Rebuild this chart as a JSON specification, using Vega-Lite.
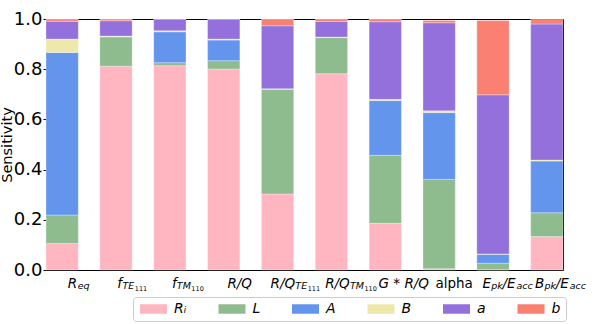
{
  "$schema": "https://vega.github.io/schema/vega-lite/v6.json",
  "autosize": {"type": "none"},
  "padding": {"left": 46, "top": 19, "right": 35, "bottom": 54},
  "width": 517,
  "height": 251,
  "background": "white",
  "config": {
    "font": "DejaVu Sans",
    "view": {"stroke": "#000000", "strokeWidth": 1},
    "axis": {"grid": false, "domain": false, "labelColor": "#000000", "titleColor": "#000000", "tickColor": "#000000"}
  },
  "data": {
    "values": [
      {"param": "R_eq", "series": "Rᵢ", "k": 0, "value": 0.106},
      {"param": "R_eq", "series": "L", "k": 1, "value": 0.113},
      {"param": "R_eq", "series": "A", "k": 2, "value": 0.648},
      {"param": "R_eq", "series": "B", "k": 3, "value": 0.053},
      {"param": "R_eq", "series": "a", "k": 4, "value": 0.071},
      {"param": "R_eq", "series": "b", "k": 5, "value": 0.009},
      {"param": "f_TE111", "series": "Rᵢ", "k": 0, "value": 0.812},
      {"param": "f_TE111", "series": "L", "k": 1, "value": 0.117},
      {"param": "f_TE111", "series": "A", "k": 2, "value": 0.001},
      {"param": "f_TE111", "series": "B", "k": 3, "value": 0.002},
      {"param": "f_TE111", "series": "a", "k": 4, "value": 0.061},
      {"param": "f_TE111", "series": "b", "k": 5, "value": 0.007},
      {"param": "f_TM110", "series": "Rᵢ", "k": 0, "value": 0.814},
      {"param": "f_TM110", "series": "L", "k": 1, "value": 0.012},
      {"param": "f_TM110", "series": "A", "k": 2, "value": 0.123},
      {"param": "f_TM110", "series": "B", "k": 3, "value": 0.004},
      {"param": "f_TM110", "series": "a", "k": 4, "value": 0.046},
      {"param": "f_TM110", "series": "b", "k": 5, "value": 0.001},
      {"param": "R/Q", "series": "Rᵢ", "k": 0, "value": 0.801},
      {"param": "R/Q", "series": "L", "k": 1, "value": 0.033},
      {"param": "R/Q", "series": "A", "k": 2, "value": 0.082},
      {"param": "R/Q", "series": "B", "k": 3, "value": 0.004},
      {"param": "R/Q", "series": "a", "k": 4, "value": 0.079},
      {"param": "R/Q", "series": "b", "k": 5, "value": 0.001},
      {"param": "R/Q_TE111", "series": "Rᵢ", "k": 0, "value": 0.303},
      {"param": "R/Q_TE111", "series": "L", "k": 1, "value": 0.417},
      {"param": "R/Q_TE111", "series": "A", "k": 2, "value": 0.001},
      {"param": "R/Q_TE111", "series": "B", "k": 3, "value": 0.001},
      {"param": "R/Q_TE111", "series": "a", "k": 4, "value": 0.251},
      {"param": "R/Q_TE111", "series": "b", "k": 5, "value": 0.027},
      {"param": "R/Q_TM110", "series": "Rᵢ", "k": 0, "value": 0.782},
      {"param": "R/Q_TM110", "series": "L", "k": 1, "value": 0.144},
      {"param": "R/Q_TM110", "series": "A", "k": 2, "value": 0.001},
      {"param": "R/Q_TM110", "series": "B", "k": 3, "value": 0.001},
      {"param": "R/Q_TM110", "series": "a", "k": 4, "value": 0.062},
      {"param": "R/Q_TM110", "series": "b", "k": 5, "value": 0.010},
      {"param": "G*R/Q", "series": "Rᵢ", "k": 0, "value": 0.186},
      {"param": "G*R/Q", "series": "L", "k": 1, "value": 0.271},
      {"param": "G*R/Q", "series": "A", "k": 2, "value": 0.218},
      {"param": "G*R/Q", "series": "B", "k": 3, "value": 0.005},
      {"param": "G*R/Q", "series": "a", "k": 4, "value": 0.309},
      {"param": "G*R/Q", "series": "b", "k": 5, "value": 0.011},
      {"param": "alpha", "series": "Rᵢ", "k": 0, "value": 0.005},
      {"param": "alpha", "series": "L", "k": 1, "value": 0.356},
      {"param": "alpha", "series": "A", "k": 2, "value": 0.266},
      {"param": "alpha", "series": "B", "k": 3, "value": 0.007},
      {"param": "alpha", "series": "a", "k": 4, "value": 0.351},
      {"param": "alpha", "series": "b", "k": 5, "value": 0.009},
      {"param": "E_pk/E_acc", "series": "Rᵢ", "k": 0, "value": 0.001},
      {"param": "E_pk/E_acc", "series": "L", "k": 1, "value": 0.026},
      {"param": "E_pk/E_acc", "series": "A", "k": 2, "value": 0.036},
      {"param": "E_pk/E_acc", "series": "B", "k": 3, "value": 0.001},
      {"param": "E_pk/E_acc", "series": "a", "k": 4, "value": 0.634},
      {"param": "E_pk/E_acc", "series": "b", "k": 5, "value": 0.296},
      {"param": "B_pk/E_acc", "series": "Rᵢ", "k": 0, "value": 0.133},
      {"param": "B_pk/E_acc", "series": "L", "k": 1, "value": 0.095},
      {"param": "B_pk/E_acc", "series": "A", "k": 2, "value": 0.206},
      {"param": "B_pk/E_acc", "series": "B", "k": 3, "value": 0.004},
      {"param": "B_pk/E_acc", "series": "a", "k": 4, "value": 0.542},
      {"param": "B_pk/E_acc", "series": "b", "k": 5, "value": 0.019}
    ]
  },
  "resolve": {"axis": {"x": "independent"}},
  "layer": [
    {
      "mark": {"type": "bar", "stroke": "white", "strokeWidth": 0.6, "strokeOpacity": 0.5},
      "encoding": {
        "x": {
          "field": "param", "type": "nominal", "sort": null,
          "scale": {"domain": ["R_eq", "f_TE111", "f_TM110", "R/Q", "R/Q_TE111", "R/Q_TM110", "G*R/Q", "alpha", "E_pk/E_acc", "B_pk/E_acc"], "paddingInner": 0.4, "paddingOuter": 0},
          "axis": {
            "orient": "bottom", "title": null, "ticks": false, "labelAngle": 0,
            "labelOverlap": false, "labelBound": false, "labelFlush": false,
            "labelFontSize": 13.5, "labelPadding": 6,
            "labelBaseline": "top",
            "labelFontStyle": {"condition": {"test": "datum.value == 'alpha'", "value": "normal"}, "value": "italic"},
            "labelAlign": {"condition": {"test": "datum.value == 'R/Q' || datum.value == 'G*R/Q' || datum.value == 'alpha'", "value": "center"}, "value": "right"},
            "labelOffset": {"condition": [
              {"test": "datum.value == 'R_eq'", "value": 15},
              {"test": "datum.value == 'f_TE111'", "value": 6},
              {"test": "datum.value == 'f_TM110'", "value": 7},
              {"test": "datum.value == 'R/Q'", "value": 16},
              {"test": "datum.value == 'R/Q_TE111'", "value": 17.6},
              {"test": "datum.value == 'R/Q_TM110'", "value": 18.3},
              {"test": "datum.value == 'G*R/Q'", "value": 18.5},
              {"test": "datum.value == 'alpha'", "value": 15},
              {"test": "datum.value == 'E_pk/E_acc'", "value": -2},
              {"test": "datum.value == 'B_pk/E_acc'", "value": -2.6}
            ], "value": 16},
            "labelExpr": "['R','f','f','R/Q','R/Q','R/Q','G * R/Q','alpha','E','B'][indexof(['R_eq','f_TE111','f_TM110','R/Q','R/Q_TE111','R/Q_TM110','G*R/Q','alpha','E_pk/E_acc','B_pk/E_acc'], datum.value)]"
          }
        },
        "y": {
          "aggregate": "sum", "field": "value", "type": "quantitative", "stack": "zero",
          "scale": {"domain": [0, 1], "nice": false},
          "axis": {
            "title": "Sensitivity", "titleFontSize": 14.5, "titleFontWeight": "normal",
            "titleX": -32, "titleBaseline": "bottom",
            "values": [0, 0.2, 0.4, 0.6, 0.8, 1.0], "format": ".1f",
            "labelFontSize": 18, "tickSize": 3, "labelPadding": 1
          }
        },
        "color": {
          "field": "series", "type": "nominal",
          "scale": {"domain": ["Rᵢ", "L", "A", "B", "a", "b"], "range": ["#FFB6C1", "#8FBC8F", "#6495ED", "#EEE8AA", "#9370DB", "#FA8072"]},
          "legend": {
            "title": null, "orient": "none", "legendX": 87, "legendY": 278,
            "direction": "horizontal", "columns": 6, "columnPadding": 29.5,
            "padding": 5, "strokeColor": "#cccccc", "fillColor": "white", "cornerRadius": 3,
            "symbolType": "M-1,-0.95H4.4V0.95H-1Z", "symbolSize": 100, "symbolStrokeWidth": 0, "symbolOpacity": 1,
            "labelOffset": 22, "labelFontSize": 14, "labelFontStyle": "italic", "labelColor": "#000000"
          }
        },
        "order": {"field": "k", "type": "quantitative"}
      }
    },
    {
      "mark": {"type": "rule", "opacity": 0},
      "encoding": {
        "x": {
          "field": "param", "type": "nominal", "sort": null,
          "axis": {
            "orient": "bottom", "title": null, "ticks": false, "labelAngle": 0,
            "labelOverlap": false, "labelBound": false, "labelFlush": false,
            "labelFontSize": 9.5, "labelPadding": 10.8, "labelBaseline": "top",
            "labelFontStyle": "italic", "labelAlign": "left",
            "labelOffset": {"condition": [
              {"test": "datum.value == 'R_eq'", "value": 15.5},
              {"test": "datum.value == 'f_TE111'", "value": 6.5},
              {"test": "datum.value == 'f_TM110'", "value": 7},
              {"test": "datum.value == 'R/Q_TE111'", "value": 17.8},
              {"test": "datum.value == 'R/Q_TM110'", "value": 18.6},
              {"test": "datum.value == 'E_pk/E_acc'", "value": -1.8},
              {"test": "datum.value == 'B_pk/E_acc'", "value": -2.4}
            ], "value": 0},
            "labelExpr": "['eq','TE','TM','','TE','TM','','','pk','pk'][indexof(['R_eq','f_TE111','f_TM110','R/Q','R/Q_TE111','R/Q_TM110','G*R/Q','alpha','E_pk/E_acc','B_pk/E_acc'], datum.value)]"
          }
        }
      }
    },
    {
      "mark": {"type": "rule", "opacity": 0},
      "encoding": {
        "x": {
          "field": "param", "type": "nominal", "sort": null,
          "axis": {
            "orient": "bottom", "title": null, "ticks": false, "labelAngle": 0,
            "labelOverlap": false, "labelBound": false, "labelFlush": false,
            "labelFontSize": 6.5, "labelPadding": 15, "labelBaseline": "top",
            "labelFontStyle": "normal", "labelAlign": "left",
            "labelOffset": {"condition": [
              {"test": "datum.value == 'f_TE111'", "value": 18.8},
              {"test": "datum.value == 'f_TM110'", "value": 21.5},
              {"test": "datum.value == 'R/Q_TE111'", "value": 30.1},
              {"test": "datum.value == 'R/Q_TM110'", "value": 33}
            ], "value": 0},
            "labelExpr": "['','111','110','','111','110','','','',''][indexof(['R_eq','f_TE111','f_TM110','R/Q','R/Q_TE111','R/Q_TM110','G*R/Q','alpha','E_pk/E_acc','B_pk/E_acc'], datum.value)]"
          }
        }
      }
    },
    {
      "mark": {"type": "rule", "opacity": 0},
      "encoding": {
        "x": {
          "field": "param", "type": "nominal", "sort": null,
          "axis": {
            "orient": "bottom", "title": null, "ticks": false, "labelAngle": 0,
            "labelOverlap": false, "labelBound": false, "labelFlush": false,
            "labelFontSize": 13.5, "labelPadding": 6, "labelBaseline": "top",
            "labelFontStyle": "italic", "labelAlign": "left",
            "labelOffset": {"condition": [
              {"test": "datum.value == 'E_pk/E_acc'", "value": 9.5},
              {"test": "datum.value == 'B_pk/E_acc'", "value": 8.8}
            ], "value": 0},
            "labelExpr": "indexof(['E_pk/E_acc','B_pk/E_acc'], datum.value) >= 0 ? '/E' : ''"
          }
        }
      }
    },
    {
      "mark": {"type": "rule", "opacity": 0},
      "encoding": {
        "x": {
          "field": "param", "type": "nominal", "sort": null,
          "axis": {
            "orient": "bottom", "title": null, "ticks": false, "labelAngle": 0,
            "labelOverlap": false, "labelBound": false, "labelFlush": false,
            "labelFontSize": 9.5, "labelPadding": 10.8, "labelBaseline": "top",
            "labelFontStyle": "italic", "labelAlign": "left",
            "labelOffset": {"condition": [
              {"test": "datum.value == 'E_pk/E_acc'", "value": 23.5},
              {"test": "datum.value == 'B_pk/E_acc'", "value": 22.8}
            ], "value": 0},
            "labelExpr": "indexof(['E_pk/E_acc','B_pk/E_acc'], datum.value) >= 0 ? 'acc' : ''"
          }
        }
      }
    }
  ]
}
